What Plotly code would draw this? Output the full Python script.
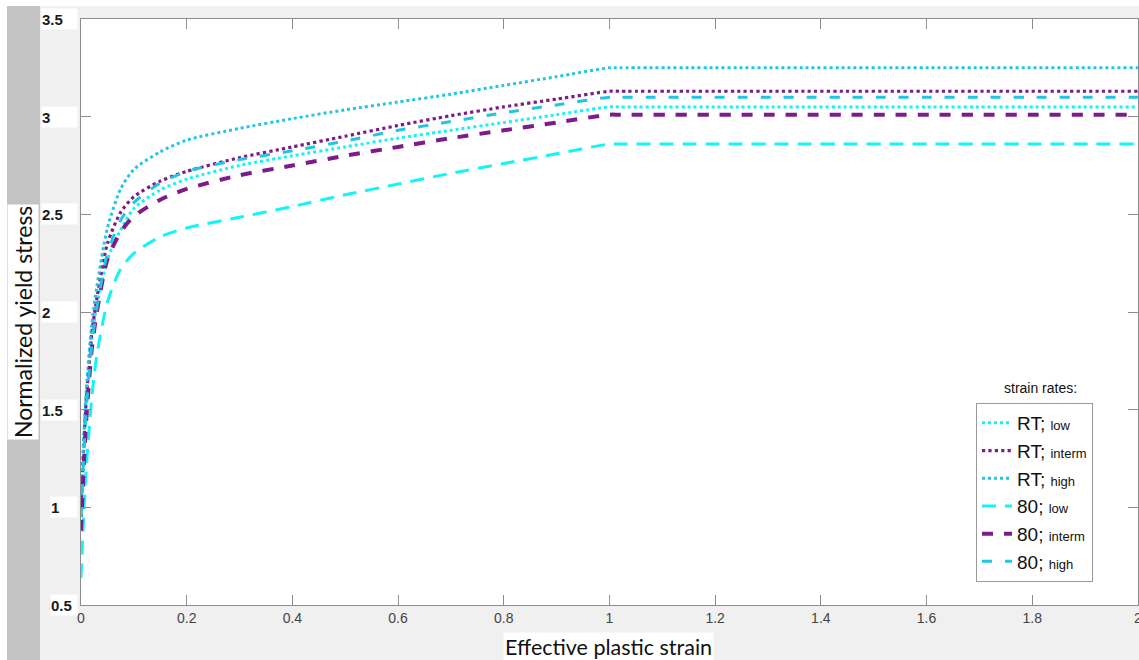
import plotly.graph_objects as go

# ---------------- data ----------------
strain = [0, 0.005, 0.01, 0.02, 0.03, 0.05, 0.075, 0.1, 0.15, 0.2,
          0.3, 0.4, 0.5, 0.6, 0.7, 0.8, 0.9, 1.0, 1.02, 2.0]

rt_low = [1.00, 1.30, 1.55, 1.85, 2.03, 2.27, 2.42, 2.53, 2.625, 2.68,
          2.75, 2.80, 2.845, 2.89, 2.93, 2.97, 3.01, 3.05, 3.05, 3.05]
rt_interm = [0.95, 1.30, 1.55, 1.88, 2.07, 2.35, 2.51, 2.59, 2.67, 2.72,
             2.79, 2.845, 2.90, 2.955, 3.005, 3.05, 3.09, 3.13, 3.13, 3.13]
rt_high = [1.00, 1.35, 1.60, 1.93, 2.13, 2.43, 2.63, 2.73, 2.82, 2.88,
           2.94, 2.99, 3.035, 3.075, 3.115, 3.16, 3.205, 3.25, 3.25, 3.25]
t80_low = [0.64, 0.95, 1.20, 1.55, 1.78, 2.05, 2.22, 2.30, 2.385, 2.43,
           2.485, 2.54, 2.60, 2.655, 2.71, 2.76, 2.81, 2.86, 2.86, 2.86]
t80_interm = [0.88, 1.20, 1.45, 1.80, 2.00, 2.27, 2.41, 2.49, 2.575, 2.63,
              2.70, 2.75, 2.80, 2.845, 2.89, 2.93, 2.97, 3.01, 3.01, 3.01]
t80_high = [0.95, 1.25, 1.50, 1.82, 2.02, 2.30, 2.47, 2.56, 2.66, 2.72,
            2.78, 2.825, 2.875, 2.93, 2.975, 3.02, 3.06, 3.10, 3.10, 3.10]

temperatures = ["RT", "RT", "RT", "80", "80", "80"]
rates = ["low", "interm", "high", "low", "interm", "high"]
series = [rt_low, rt_interm, rt_high, t80_low, t80_interm, t80_high]

x_ticks = [0, 0.2, 0.4, 0.6, 0.8, 1, 1.2, 1.4, 1.6, 1.8, 2]
x_tick_labels = ["0", "0.2", "0.4", "0.6", "0.8", "1", "1.2", "1.4", "1.6", "1.8", "2"]
y_ticks = [0.5, 1, 1.5, 2, 2.5, 3, 3.5]
y_tick_labels = ["0.5", "1", "1.5", "2", "2.5", "3", "3.5"]

x_title = "Effective plastic strain"
y_title = "Normalized yield stress"
legend_title = "strain rates:"

# ---------------- styling ----------------
W, H = 1139, 660
ML, MR, MT, MB = 81, 1, 19, 55
PW, PH = W - ML - MR, H - MT - MB


def px(xp):
    return (xp - ML) / PW


def py(yp):
    return (H - MB - yp) / PH


CYAN = "#14f4f6"
CYAN_DARK = "#22c6e2"
PURPLE = "#7d1b8b"
colors = [CYAN, PURPLE, CYAN_DARK, CYAN, PURPLE, CYAN_DARK]
dashes = ["dot", "dot", "dot", "14px,9px", "11px,11px", "10px,13px"]
widths = [3, 3.2, 3, 3, 4, 3]

fig = go.Figure()
for i, ys in enumerate(series):
    name = f"{temperatures[i]}; <span style='font-size:13px'>{rates[i]}</span>"
    fig.add_trace(go.Scatter(
        x=strain, y=ys, mode="lines", name=name,
        line=dict(color=colors[i], width=widths[i], dash=dashes[i],
                  shape="spline", smoothing=0.7),
        legendgroup=f"g{i}",
    ))

shapes = [
    dict(type="rect", xref="paper", yref="paper", x0=px(0), x1=px(7), y0=py(H), y1=py(0),
         fillcolor="white", line=dict(width=0), layer="below"),
    dict(type="rect", xref="paper", yref="paper", x0=px(7), x1=px(40), y0=py(H), y1=py(6),
         fillcolor="#c3c3c3", line=dict(width=0), layer="below"),
    dict(type="rect", xref="paper", yref="paper", x0=px(0), x1=px(W), y0=py(6), y1=py(0),
         fillcolor="white", line=dict(width=0), layer="below"),
]

annotations = []
indent = {"0.5": 9, "1": 9}
for v, lab in zip(y_ticks, y_tick_labels):
    annotations.append(dict(
        x=px(41), xref="paper", xanchor="left", y=v, yref="y", yanchor="middle",
        text=f"<b>{lab}</b>", showarrow=False, align="left",
        font=dict(family="Liberation Sans, Arial", size=15, color="#1a1a1a"),
        bgcolor="white", width=35 - indent.get(lab, 0), height=20, borderpad=0,
        xshift=indent.get(lab, 0),
    ))

annotations.append(dict(
    x=px(608), xref="paper", y=py(647), yref="paper", xanchor="center", yanchor="middle",
    text=x_title, showarrow=False, bgcolor="white", borderpad=1,
    font=dict(family="Lato, Open Sans", size=21.5, color="#111111"),
))
annotations.append(dict(
    x=px(23), xref="paper", y=py(322), yref="paper", xanchor="center", yanchor="middle",
    text=y_title, textangle=-90, showarrow=False, bgcolor="white", borderpad=1,
    font=dict(family="Lato, Open Sans", size=23, color="#111111"),
))
annotations.append(dict(
    x=px(1040), xref="paper", y=py(388), yref="paper", xanchor="center", yanchor="middle",
    text=legend_title, showarrow=False,
    font=dict(family="Liberation Sans, Arial", size=14, color="#111111"),
))

axis_common = dict(
    showgrid=False, zeroline=False, showline=True, linecolor="#8c8c8c", linewidth=1.3,
    mirror="ticks", ticks="inside", ticklen=10, tickcolor="#8c8c8c", tickwidth=1.3,
    automargin=False,
)

fig.update_layout(
    width=W, height=H,
    margin=dict(l=ML, r=MR, t=MT, b=MB, autoexpand=False),
    paper_bgcolor="#f0f0f0", plot_bgcolor="white",
    xaxis=dict(range=[0, 2.0002], tickvals=x_ticks, ticktext=x_tick_labels,
               tickfont=dict(family="Liberation Sans, Arial", size=14, color="#444444"),
               ticklabeloverflow="allow",
               **axis_common),
    yaxis=dict(range=[0.5, 3.5], tickvals=y_ticks, showticklabels=False, **axis_common),
    legend=dict(x=px(976), y=py(403), xanchor="left", yanchor="top",
                bgcolor="white", bordercolor="#9a9a9a", borderwidth=1,
                font=dict(family="Liberation Sans, Arial", size=19, color="#111111"),
                tracegroupgap=0, itemwidth=30),
    showlegend=True,
    shapes=shapes,
    annotations=annotations,
)

fig.write_html("out.html", config={"displayModeBar": False},
               post_script="document.body.style.margin='0';")
